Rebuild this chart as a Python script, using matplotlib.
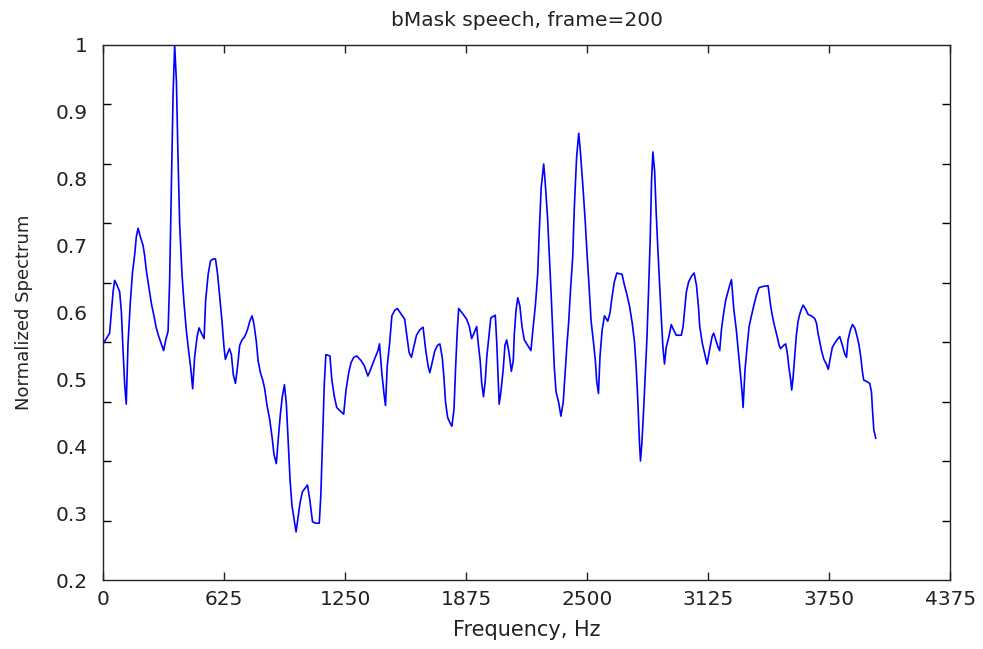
import numpy as np
import matplotlib
matplotlib.use("Agg")
import matplotlib.pyplot as plt

# frequency bins (Hz) and normalized spectrum
freq = [0, 34, 43, 52, 60, 72, 86, 95, 103, 112, 120, 129, 141, 152, 164, 172, 181, 193,
        207, 215, 224, 236, 250, 263, 275, 288, 301, 313, 324, 336, 344, 353, 362, 370,
        379, 387, 396, 408, 418, 430, 442, 453, 463, 473, 486, 496, 508, 522, 530, 543,
        555, 568, 581, 591, 603, 615, 625, 632, 642, 653, 663, 673, 684, 694, 706, 718,
        732, 746, 758, 770, 780, 792, 801, 813, 825, 835, 847, 861, 873, 883, 895, 906,
        916, 926, 937, 947, 956, 966, 976, 987, 997, 1007, 1018, 1030, 1056, 1068, 1082,
        1099, 1117, 1125, 1134, 1143, 1151, 1172, 1182, 1195, 1207, 1224, 1243, 1255,
        1269, 1281, 1295, 1311, 1333, 1350, 1368, 1385, 1402, 1420, 1428, 1440, 1451,
        1459, 1468, 1480, 1492, 1506, 1520, 1541, 1558, 1570, 1581, 1593, 1605, 1619,
        1636, 1653, 1667, 1679, 1688, 1702, 1714, 1728, 1740, 1752, 1761, 1769, 1780,
        1792, 1802, 1813, 1821, 1830, 1837, 1861, 1878, 1892, 1904, 1916, 1930, 1939,
        1948, 1956, 1965, 1974, 1982, 1994, 2003, 2026, 2034, 2046, 2055, 2067, 2076,
        2085, 2098, 2109, 2119, 2124, 2133, 2142, 2153, 2164, 2176, 2193, 2210, 2222,
        2233, 2245, 2253, 2263, 2276, 2284, 2296, 2305, 2314, 2322, 2331, 2340, 2353,
        2365, 2377, 2386, 2396, 2405, 2414, 2426, 2434, 2446, 2457, 2465, 2478, 2490,
        2500, 2509, 2521, 2533, 2543, 2550, 2559, 2567, 2578, 2590, 2607, 2619, 2629,
        2641, 2654, 2681, 2693, 2705, 2719, 2733, 2745, 2754, 2763, 2771, 2776, 2783,
        2792, 2800, 2809, 2817, 2826, 2833, 2840, 2849, 2857, 2866, 2875, 2883, 2892,
        2900, 2909, 2923, 2935, 2947, 2961, 2987, 2996, 3004, 3013, 3025, 3039, 3053,
        3065, 3075, 3082, 3096, 3108, 3120, 3134, 3146, 3154, 3165, 3177, 3185, 3194,
        3206, 3216, 3228, 3237, 3246, 3258, 3271, 3282, 3292, 3301, 3306, 3316, 3328,
        3337, 3349, 3361, 3375, 3388, 3409, 3435, 3447, 3457, 3469, 3482, 3492, 3499,
        3516, 3526, 3535, 3543, 3552, 3557, 3564, 3573, 3581, 3590, 3598, 3607, 3616,
        3629, 3642, 3659, 3676, 3685, 3693, 3702, 3711, 3723, 3736, 3746, 3757, 3767,
        3779, 3791, 3805, 3819, 3831, 3840, 3848, 3860, 3871, 3883, 3895, 3905, 3914,
        3922, 3929, 3943, 3960, 3969, 3974, 3981, 3991]
spectrum = [0.553, 0.569, 0.600, 0.631, 0.648, 0.641, 0.631, 0.600, 0.546, 0.492, 0.463,
            0.553, 0.615, 0.659, 0.688, 0.713, 0.726, 0.713, 0.700, 0.685, 0.662, 0.639,
            0.613, 0.595, 0.577, 0.564, 0.553, 0.543, 0.559, 0.572, 0.647, 0.786, 0.928,
            1.000, 0.946, 0.837, 0.731, 0.657, 0.615, 0.574, 0.543, 0.517, 0.486, 0.533,
            0.564, 0.577, 0.569, 0.561, 0.618, 0.657, 0.677, 0.680, 0.680, 0.659, 0.623,
            0.585, 0.548, 0.530, 0.538, 0.546, 0.537, 0.507, 0.494, 0.517, 0.551, 0.559,
            0.564, 0.574, 0.587, 0.595, 0.582, 0.556, 0.528, 0.510, 0.499, 0.486, 0.461,
            0.440, 0.414, 0.388, 0.374, 0.414, 0.448, 0.474, 0.492, 0.463, 0.409, 0.350,
            0.311, 0.290, 0.272, 0.293, 0.316, 0.332, 0.342, 0.320, 0.287, 0.285, 0.285,
            0.327, 0.410, 0.494, 0.537, 0.535, 0.499, 0.474, 0.458, 0.453, 0.448, 0.484,
            0.510, 0.525, 0.533, 0.535, 0.528, 0.520, 0.505, 0.517, 0.530, 0.543, 0.553,
            0.510, 0.479, 0.461, 0.520, 0.553, 0.595, 0.603, 0.606, 0.597, 0.590, 0.564,
            0.540, 0.533, 0.548, 0.566, 0.574, 0.578, 0.543, 0.520, 0.510, 0.528, 0.543,
            0.551, 0.553, 0.533, 0.502, 0.466, 0.443, 0.435, 0.430, 0.456, 0.517, 0.574,
            0.606, 0.597, 0.590, 0.579, 0.561, 0.569, 0.579, 0.551, 0.528, 0.494, 0.474,
            0.497, 0.533, 0.566, 0.592, 0.596, 0.553, 0.463, 0.481, 0.515, 0.551, 0.559,
            0.538, 0.512, 0.528, 0.566, 0.603, 0.622, 0.610, 0.579, 0.559, 0.551, 0.543,
            0.579, 0.610, 0.657, 0.719, 0.786, 0.822, 0.794, 0.742, 0.688, 0.631, 0.577,
            0.517, 0.481, 0.466, 0.445, 0.466, 0.507, 0.551, 0.585, 0.631, 0.683, 0.755,
            0.832, 0.868, 0.843, 0.791, 0.739, 0.688, 0.646, 0.587, 0.556, 0.528, 0.497,
            0.479, 0.535, 0.574, 0.595, 0.587, 0.600, 0.623, 0.646, 0.659, 0.657, 0.641,
            0.628, 0.610, 0.585, 0.556, 0.517, 0.463, 0.404, 0.378, 0.404, 0.453, 0.504,
            0.559, 0.626, 0.708, 0.796, 0.840, 0.812, 0.750, 0.693, 0.641, 0.595, 0.548,
            0.523, 0.548, 0.564, 0.582, 0.574, 0.566, 0.566, 0.579, 0.603, 0.631, 0.646,
            0.654, 0.659, 0.641, 0.610, 0.579, 0.553, 0.538, 0.523, 0.546, 0.564, 0.569,
            0.559, 0.548, 0.543, 0.574, 0.600, 0.618, 0.631, 0.641, 0.649, 0.605, 0.574,
            0.540, 0.509, 0.479, 0.458, 0.515, 0.553, 0.579, 0.595, 0.610, 0.626, 0.637,
            0.639, 0.640, 0.613, 0.595, 0.579, 0.564, 0.551, 0.546, 0.551, 0.553, 0.538,
            0.517, 0.499, 0.484, 0.502, 0.535, 0.566, 0.587, 0.597, 0.605, 0.611, 0.605,
            0.597, 0.595, 0.591, 0.584, 0.569, 0.556, 0.543, 0.530, 0.523, 0.515, 0.533,
            0.548, 0.554, 0.559, 0.564, 0.551, 0.538, 0.533, 0.559, 0.574, 0.582, 0.577,
            0.564, 0.551, 0.533, 0.512, 0.499, 0.497, 0.494, 0.481, 0.456, 0.425, 0.412]

x_ticks = [0, 625, 1250, 1875, 2500, 3125, 3750, 4375]
y_ticks = [0.2, 0.3, 0.4, 0.5, 0.6, 0.7, 0.8, 0.9, 1]
y_ticklabels = ['0.2', '0.3', '0.4', '0.5', '0.6', '0.7', '0.8', '0.9', '1']

fig = plt.figure(figsize=(9.83, 6.49), dpi=100)
ax = fig.add_axes([0.1048, 0.1063, 0.8617, 0.8244])

ax.plot(freq, spectrum, color='#0000ff', linewidth=1.2)

ax.set_xlim(0, 4375)
ax.set_ylim(0.2, 1)
ax.set_xticks(x_ticks)
ax.set_xticklabels([str(t) for t in x_ticks])
ax.tick_params(axis='x', direction='in', length=6, width=1, top=True,
               labelsize=14.5, pad=7, colors='#222222')

# the tick marks in the reference sit on a 9-step grid while the labels use 8 steps
ax.set_yticks(y_ticks)
ax.set_yticklabels(y_ticklabels)
ax.set_yticks(np.linspace(0.2, 1, 10), minor=True)
ax.tick_params(axis='y', which='major', length=0, labelsize=14.5, pad=11, colors='#222222')
ax.tick_params(axis='y', which='minor', direction='in', length=6, width=1,
               right=True, left=True)

for sp in ax.spines.values():
    sp.set_linewidth(1.0)
    sp.set_color('#222222')

ax.set_title('bMask speech, frame=200', fontsize=14.5, pad=14, color='#222222')
ax.set_xlabel('Frequency, Hz', fontsize=15, labelpad=8, color='#222222')
ax.set_ylabel('Normalized Spectrum', fontsize=13, labelpad=16, color='#222222')

fig.savefig('out.png', dpi=100)
